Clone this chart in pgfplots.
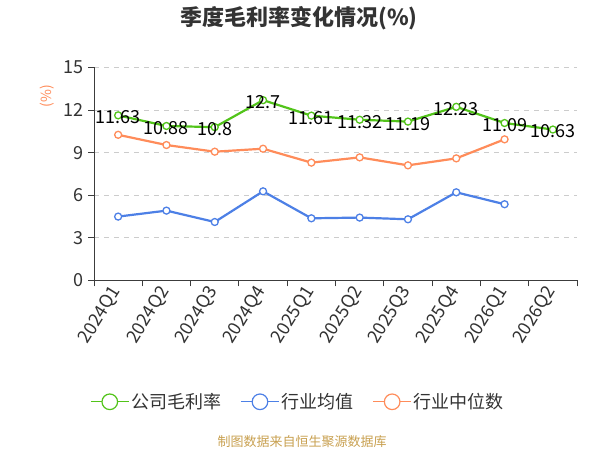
\documentclass[border=0pt]{standalone}
\usepackage{pgfplots}
\pgfplotsset{compat=1.18}
\usepackage{fontspec}
\setmainfont{Noto Sans CJK SC}
\definecolor{cgreen}{RGB}{82,196,26}
\definecolor{cblue}{RGB}{77,128,230}
\definecolor{corange}{RGB}{255,140,90}
\definecolor{ctext}{RGB}{51,51,51}
\definecolor{caxis}{RGB}{60,60,60}
\definecolor{cgrid}{RGB}{204,204,204}
\definecolor{cfoot}{RGB}{200,160,80}
\newcommand{\fs}[1]{\fontsize{#1bp}{#1bp}\selectfont}
\begin{document}
\begin{tikzpicture}[x=1bp,y=1bp]
\path[use as bounding box] (0,0) rectangle (600,450);
\node[font=\fs{22}\bfseries, text=ctext] at (299,432) {季度毛利率变化情况(\%)};
\node[font=\fs{13}, text=cfoot] at (302,8.3) {制图数据来自恒生聚源数据库};
\begin{axis}[
  at={(94bp,169.5bp)}, anchor=south west, scale only axis,
  width=483bp, height=213bp,
  xmin=-0.5, xmax=9.5, ymin=0, ymax=15,
  ytick={0,3,...,15},
  xtick={0,...,9},
  xticklabels={2024Q1,2024Q2,2024Q3,2024Q4,2025Q1,2025Q2,2025Q3,2025Q4,2026Q1,2026Q2},
  minor xtick={-0.5,0.5,...,9.5},
  major x tick style={draw=none},
  minor x tick style={draw=caxis, line width=0.9bp},
  major y tick style={draw=caxis, line width=0.9bp},
  major tick length=6bp, minor tick length=6bp,
  tick align=outside,
  axis x line*=bottom, axis y line*=left,
  axis line style={draw=caxis, line width=0.9bp, -},
  ymajorgrids, grid style={draw=cgrid, dash pattern=on 5bp off 5bp, line width=0.9bp},
  /pgf/number format/assume math mode=true,
  yticklabel style={font=\fs{18}, text=ctext, xshift=-1bp},
  xticklabel style={font=\fs{18}, text=ctext, rotate=58, anchor=east, inner sep=2bp},
  ylabel={(\%)},
  ylabel style={at={(axis description cs:-0.097,0.866)}, anchor=center, font=\fs{14}, text=corange},
  legend style={at={(-7bp,-121.3bp)}, anchor=west, draw=none, fill=none, legend columns=3,
    font=\fs{18}, text=ctext,
    /tikz/every even column/.append style={column sep=17bp}},
  legend cell align=left,
  legend image code/.code={
    \draw[#1, mark=none, line width=1.2bp] (0bp,0bp) -- (38bp,0bp);
    \draw[#1, mark=none, fill=white, line width=1.2bp] (19bp,0bp) circle (7.8bp);
  },
]
\addplot[color=cgreen, line width=2.2bp, mark=*, mark size=3.5bp,
  mark options={fill=white, draw=cgreen, line width=1.3bp},
  nodes near coords, point meta=explicit symbolic,
  every node near coord/.append style={anchor=center, yshift=-2bp, font=\fs{18}, text=black}]
  coordinates {(0,11.63)[11.63] (1,10.88)[10.88] (2,10.8)[10.8] (3,12.7)[12.7] (4,11.61)[11.61]
    (5,11.32)[11.32] (6,11.19)[11.19] (7,12.23)[12.23] (8,11.09)[11.09] (9,10.63)[10.63]};
\addlegendentry{公司毛利率}
\addplot[color=cblue, line width=2.2bp, mark=*, mark size=3.5bp,
  mark options={fill=white, draw=cblue, line width=1.3bp}]
  coordinates {(0,4.50) (1,4.92) (2,4.12) (3,6.28) (4,4.38) (5,4.43) (6,4.31) (7,6.21) (8,5.37)};
\addlegendentry{行业均值}
\addplot[color=corange, line width=2.2bp, mark=*, mark size=3.5bp,
  mark options={fill=white, draw=corange, line width=1.3bp}]
  coordinates {(0,10.26) (1,9.54) (2,9.07) (3,9.28) (4,8.30) (5,8.67) (6,8.11) (7,8.60) (8,9.94)};
\addlegendentry{行业中位数}
\end{axis}
\end{tikzpicture}
\end{document}
